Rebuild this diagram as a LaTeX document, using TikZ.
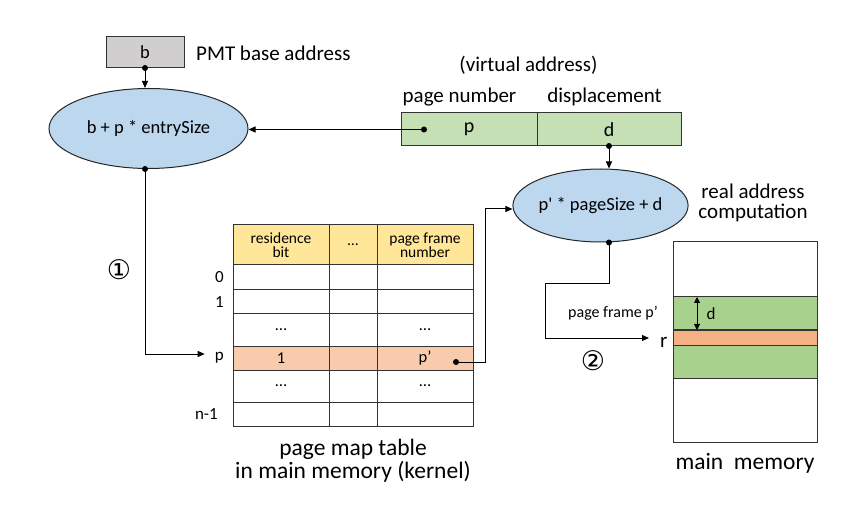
\documentclass[tikz,border=0pt]{standalone}
\usepackage{fontspec}
\setmainfont{Carlito}
\newfontfamily\circfont{DejaVu Sans}
\usetikzlibrary{arrows.meta, positioning, shapes.geometric}
\definecolor{basegray}{HTML}{D0CECE}
\definecolor{calcblue}{HTML}{BDD7EE}
\definecolor{vagreen}{HTML}{C5E0B4}
\definecolor{hdryellow}{HTML}{FFE699}
\definecolor{rowpeach}{HTML}{F8CBAD}
\definecolor{framegreen}{HTML}{A9D18E}
\definecolor{slotorange}{HTML}{F4B183}

\begin{document}
\begin{tikzpicture}[x=1pt, y=-1pt,
    >={Triangle[length=7pt,width=6pt]},
    box/.style={draw=black!80, line width=1pt, inner sep=0pt, outer sep=0pt},
    calc/.style={ellipse, draw=black!85, line width=1pt, fill=calcblue, inner sep=0pt,
                 font=\fontsize{18.5}{20}\selectfont},
    cell/.style={box, font=\fontsize{16.5}{16}\selectfont},
    wide/.style={cell, minimum width=96pt},
    narrow/.style={cell, minimum width=48pt},
    hdr/.style={fill=hdryellow, align=center, minimum height=40pt,
                font=\fontsize{15.5}{14.5}\selectfont},
    mem/.style={box, minimum width=144pt},
    dot/.style={circle, fill=black, inner sep=0pt, minimum size=6pt},
    lab/.style={inner sep=0pt, font=\fontsize{21}{20}\selectfont},
    big/.style={inner sep=0pt, font=\fontsize{23.5}{23}\selectfont},
    rowlab/.style={inner sep=0pt, font=\fontsize{17}{17}\selectfont},
    small/.style={inner sep=0pt, font=\fontsize{16}{16}\selectfont},
    circ/.style={inner sep=0pt, font=\circfont\fontsize{27}{27}\selectfont},
    link/.style={line width=1pt}]
    \useasboundingbox (0,0) rectangle (856,510);

    % base register and first computation
    \node[box, fill=basegray, minimum width=78pt, minimum height=31pt,
          font=\fontsize{18.5}{20}\selectfont] (b) at (145,52.5) {b};
    \node[lab, anchor=base west] (blab) at (196,60.5) {PMT base address};
    \node[calc, minimum width=199pt, minimum height=80pt] (pmt) at (148.5,128.5) {b + p * entrySize};

    % virtual address
    \node[box, fill=vagreen, minimum width=136pt, minimum height=33pt,
          font=\fontsize{20}{20}\selectfont] (pg) at (469,129.5) {p};
    \node[box, fill=vagreen, minimum width=144pt, minimum height=33pt,
          font=\fontsize{20}{20}\selectfont, right=0pt of pg] (disp) {d};
    \node[lab, anchor=base] (valab) at (528.5,72) {(virtual address)};
    \node[lab, anchor=base] (pglab) at (459.5,103) {page number};
    \node[lab, anchor=base] (displab) at (604.5,103) {displacement};

    % real address computation
    \node[calc, minimum width=175pt, minimum height=73pt] (real) at (600.5,205.5) {p\textquotesingle{} * pageSize + d};
    \node[lab, align=center] (reallab) at (753,203) {real address\\computation};

    % page map table
    \node[wide, hdr] (h1) at (281,245) {residence\\bit};
    \node[narrow, hdr, right=0pt of h1] (h2) {\dots};
    \node[wide, hdr, right=0pt of h2] (h3) {page frame\\number};
    \node[wide, minimum height=25pt, below=0pt of h1] (a1) {};
    \node[narrow, minimum height=25pt, right=0pt of a1] (a2) {};
    \node[wide, minimum height=25pt, right=0pt of a2] (a3) {};
    \node[wide, minimum height=24pt, below=0pt of a1] (c1) {};
    \node[narrow, minimum height=24pt, right=0pt of c1] (c2) {};
    \node[wide, minimum height=24pt, right=0pt of c2] (c3) {};
    \node[wide, minimum height=32pt, below=0pt of c1] (d1) {\dots};
    \node[narrow, minimum height=32pt, right=0pt of d1] (d2) {};
    \node[wide, minimum height=32pt, right=0pt of d2] (d3) {\dots};
    \node[wide, fill=rowpeach, minimum height=24pt, below=0pt of d1] (p1) {1};
    \node[narrow, fill=rowpeach, minimum height=24pt, right=0pt of p1] (p2) {};
    \node[wide, fill=rowpeach, minimum height=24pt, right=0pt of p2] (p3) {p’};
    \node[wide, minimum height=32pt, below=0pt of p1] (e1) {\dots};
    \node[narrow, minimum height=32pt, right=0pt of e1] (e2) {};
    \node[wide, minimum height=32pt, right=0pt of e2] (e3) {\dots};
    \node[wide, minimum height=24pt, below=0pt of e1] (n1) {};
    \node[narrow, minimum height=24pt, right=0pt of n1] (n2) {};
    \node[wide, minimum height=24pt, right=0pt of n2] (n3) {};

    \node[rowlab, left=9pt of a1] (l0) {0};
    \node[rowlab, left=9pt of c1] (l1) {1};
    \node[rowlab, left=9pt of p1] (lp) {p};
    \node[rowlab, left=15pt of n1] (ln) {n-1};
    \node[big, align=center] (pmtlab) at (353,461) {page map table\\in main memory (kernel)};

    % main memory
    \node[mem, minimum height=55pt] (mtop) at (745,269.5) {};
    \node[mem, fill=framegreen, minimum height=33pt, below=0pt of mtop] (mf1) {};
    \node[mem, fill=slotorange, minimum height=15pt, below=0pt of mf1] (ms) {};
    \node[mem, fill=framegreen, minimum height=33pt, below=0pt of ms] (mf2) {};
    \node[mem, minimum height=64pt, below=0pt of mf2] (mbot) {};
    \node[big, anchor=base] (memlab) at (745,469) {main~~memory};
    \node[rowlab] (dlab) at ([xshift=38pt]mf1.west) {d};
    \node[lab, anchor=west, outer xsep=11pt] (r) at (649,342) {r};

    % dots
    \node[dot] (bd) at (b.south) {};
    \node[dot] (pmd) at (b.south |- pmt.south) {};
    \node[dot] (vd) at ([xshift=-45pt]pg.center) {};
    \node[dot] (dd) at (disp.south) {};
    \node[dot] (rd) at (disp.south |- real.south) {};
    \node[dot] (pd) at ([xshift=31pt,yshift=-4pt]p3.center) {};

    % connectors
    \draw[link, ->] (bd.center) -- (bd.center |- pmt.north);
    \draw[link, ->] (vd.center) -- (vd.center -| pmt.east);
    \draw[link, ->] (dd.center) -- (dd.center |- real.north);
    \draw[link, ->, shorten >=10pt] (pmd.center) |- ([yshift=4pt]lp.west);
    \draw[link, ->] (pd.center) -- ++(29,0) |- ([yshift=-3.5pt]real.west);
    \draw[link, ->] (rd.center) |- ++(-64,41) |- ([yshift=4pt]r.west);
    \draw[link, <->, >={Triangle[length=6pt,width=6pt]}]
        ([xshift=24pt]mf1.north west) -- ([xshift=24pt]mf1.south west);

    \node[small] (pflab) at (613,313) {page frame p’};
    \node[circ] (one) at (119,270) {①};
    \node[circ] (two) at (593,361) {②};
\end{tikzpicture}
\end{document}
